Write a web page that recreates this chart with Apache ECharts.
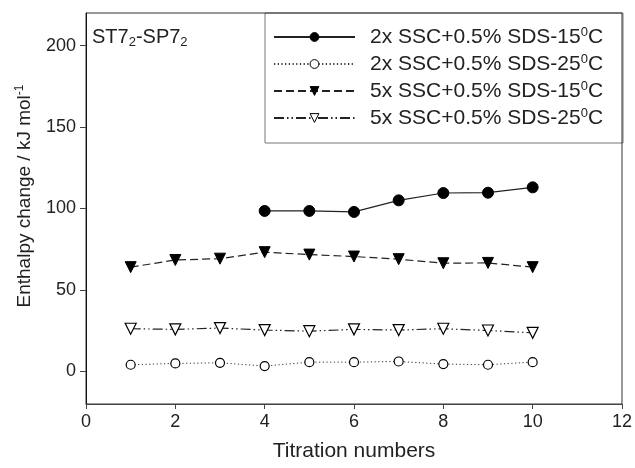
<!DOCTYPE html>
<html><head><meta charset="utf-8">
<script src="https://cdn.jsdelivr.net/npm/echarts@6/dist/echarts.min.js"></script>
<style>html,body{margin:0;padding:0;background:#fff}#c{width:635px;height:468px}</style>
</head><body><div id="c"></div><script>
// ---- data ----
const titration = [1, 2, 3, 4, 5, 6, 7, 8, 9, 10];
const ssc2_15 = [null, null, null, 98.5, 98.5, 97.9, 105.0, 109.5, 109.7, 113.0];
const ssc2_25 = [4.1, 4.9, 5.3, 3.3, 5.7, 5.7, 6.1, 4.5, 4.1, 5.7];
const ssc5_15 = [64.0, 68.4, 69.2, 73.2, 71.7, 70.5, 68.9, 66.4, 66.6, 64.0];
const ssc5_25 = [26.2, 25.8, 26.6, 25.4, 24.7, 25.8, 25.4, 26.2, 25.1, 23.7];
const seriesLabels = ['2x SSC+0.5% SDS-15', '2x SSC+0.5% SDS-25', '5x SSC+0.5% SDS-15', '5x SSC+0.5% SDS-25'];
const xTicks = [0, 2, 4, 6, 8, 10, 12];
const yTicks = [0, 50, 100, 150, 200];

const FONT = '"Liberation Sans", Arial, Helvetica, sans-serif';
const pair = arr => titration.map((x, i) => [x, arr[i]]).filter(p => p[1] != null);
const names = seriesLabels.map(s => s + '°C');

const chart = echarts.init(document.getElementById('c'), null, {renderer: 'canvas'});
chart.setOption({
  animation: false,
  backgroundColor: '#fff',
  textStyle: {fontFamily: FONT, color: '#222'},
  grid: {left: 86, top: 13, right: 12, bottom: 64, show: true, borderColor: '#333', borderWidth: 1, backgroundColor: 'transparent'},
  xAxis: {
    type: 'value', min: 0, max: 12, interval: 2,
    axisLine: {show: true, onZero: false, lineStyle: {color: '#444', width: 1}},
    axisTick: {show: true, inside: false, length: 5, lineStyle: {color: '#444'}},
    axisLabel: {fontSize: 18, color: '#222', margin: 9, fontFamily: FONT,
      customValues: xTicks},
    splitLine: {show: false},
    name: 'Titration numbers', nameLocation: 'middle', nameGap: 37,
    nameTextStyle: {fontSize: 21, color: '#222', fontFamily: FONT}
  },
  yAxis: {
    type: 'value', min: -20, max: 220,
    axisLine: {show: true, onZero: false, lineStyle: {color: '#111', width: 1}},
    axisTick: {show: true, inside: false, length: 6, lineStyle: {color: '#444'}, customValues: yTicks},
    axisLabel: {fontSize: 18, color: '#222', margin: 10, fontFamily: FONT, customValues: yTicks},
    splitLine: {show: false}
  },
  legend: {
    orient: 'vertical', left: 273, top: 26, padding: 0,
    itemWidth: 81, itemHeight: 11, itemGap: 5,
    data: names,
    formatter: n => '{a|' + n.slice(0, -2) + '}{s|0}{c|C}',
    textStyle: {
      fontFamily: FONT, color: '#222', fontSize: 21, lineHeight: 22,
      rich: {
        a: {fontSize: 21, lineHeight: 22, padding: [0, 0, 0, 10], fontFamily: FONT, color: '#222'},
        s: {fontSize: 13, lineHeight: 9, verticalAlign: 'top', fontFamily: FONT, color: '#222'},
        c: {fontSize: 21, lineHeight: 22, fontFamily: FONT, color: '#222'}
      }
    },
    itemStyle: {borderWidth: 1}
  },
  graphic: [
    {type: 'rect', z: -1, shape: {x: 265, y: 13, width: 358, height: 130},
      style: {fill: '#fff', stroke: '#777', lineWidth: 1}},
    {type: 'text', x: 92, y: 37, z: 10,
      style: {text: '{m|ST7}{b|2}{m|-SP7}{b|2}', align: 'left', verticalAlign: 'middle',
        rich: {
          m: {fontSize: 20, lineHeight: 24, fontFamily: FONT, fill: '#222'},
          b: {fontSize: 13, lineHeight: 8, verticalAlign: 'bottom', fontFamily: FONT, fill: '#222'}
        }}},
    {type: 'text', x: 25, y: 196, rotation: Math.PI / 2, z: 10,
      style: {text: '{m|Enthalpy change / kJ mol}{s|-1}', align: 'center', verticalAlign: 'middle',
        rich: {
          m: {fontSize: 19, lineHeight: 22, fontFamily: FONT, fill: '#222'},
          s: {fontSize: 12, lineHeight: 8, verticalAlign: 'top', fontFamily: FONT, fill: '#222'}
        }}}
  ],
  series: [
    {name: names[0], type: 'line', data: pair(ssc2_15), symbol: 'circle', symbolSize: 11,
      itemStyle: {color: '#000', borderColor: '#000', borderWidth: 1},
      lineStyle: {color: '#222', width: 1.2, type: 'solid'}, z: 3},
    {name: names[1], type: 'line', data: pair(ssc2_25), symbol: 'circle', symbolSize: 9,
      itemStyle: {color: '#fff', borderColor: '#000', borderWidth: 1.2},
      lineStyle: {color: '#333', width: 1, type: [1.2, 2.5]}, z: 3},
    {name: names[2], type: 'line', data: pair(ssc5_15), symbol: 'triangle', symbolRotate: 180, symbolSize: 11,
      itemStyle: {color: '#000', borderColor: '#000', borderWidth: 1},
      lineStyle: {color: '#222', width: 1.2, type: [8, 4]}, z: 3},
    {name: names[3], type: 'line', data: pair(ssc5_25), symbol: 'triangle', symbolRotate: 180, symbolSize: 11,
      itemStyle: {color: '#fff', borderColor: '#000', borderWidth: 1.2},
      lineStyle: {color: '#222', width: 1.2, type: [10, 3, 1.5, 3, 1.5, 3]}, z: 3}
  ]
});
</script></body></html>
